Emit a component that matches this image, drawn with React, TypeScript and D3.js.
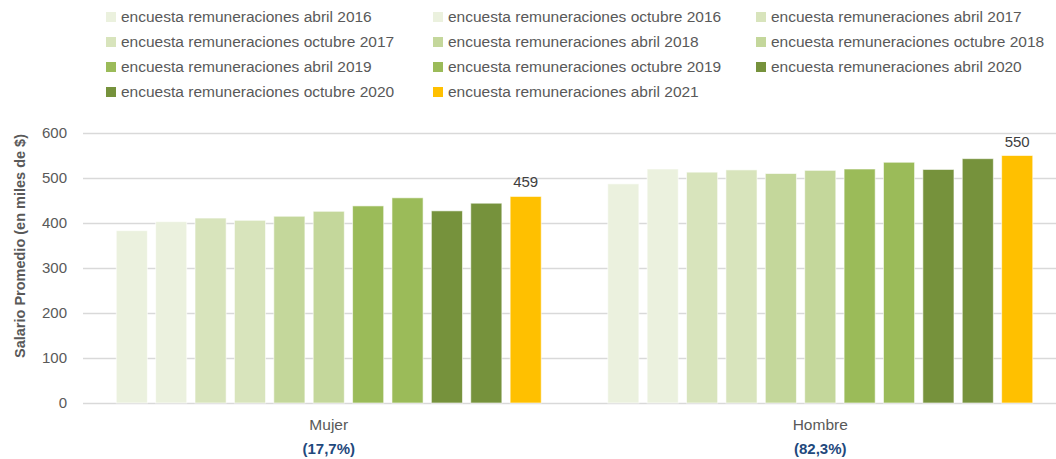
import React, { useEffect, useRef } from "react";
import * as d3 from "d3";

const categories = ["Mujer", "Hombre"];
const shares = ["(17,7%)", "(82,3%)"];

const series = [
  "encuesta remuneraciones abril 2016",
  "encuesta remuneraciones octubre 2016",
  "encuesta remuneraciones abril 2017",
  "encuesta remuneraciones octubre 2017",
  "encuesta remuneraciones abril 2018",
  "encuesta remuneraciones octubre 2018",
  "encuesta remuneraciones abril 2019",
  "encuesta remuneraciones octubre 2019",
  "encuesta remuneraciones abril 2020",
  "encuesta remuneraciones octubre 2020",
  "encuesta remuneraciones abril 2021",
];

const colors = [
  "#EBF1DE", "#EBF1DE",
  "#D8E4BC", "#D8E4BC",
  "#C4D79B", "#C4D79B",
  "#9BBB59", "#9BBB59",
  "#76923C", "#76923C",
  "#FFC000",
];

// values per series: [Mujer, Hombre]
const mujer = [383, 403, 411, 406, 415, 426, 438, 456, 427, 444, 459];
const hombre = [487, 520, 513, 518, 510, 517, 520, 535, 519, 543, 550];

const yTicks = [0, 100, 200, 300, 400, 500, 600];

const App = () => {
  const svgRef = useRef<SVGSVGElement>(null);

  useEffect(() => {
    const w = 1056;
    const h = 459;
    const svg = d3.select(svgRef.current).attr("width", w).attr("height", h);
    svg.selectAll("*").remove();

    const font = "'Liberation Sans', Arial, sans-serif";
    const grey = "#595959";

    const yScale = d3.scaleLinear().domain([0, 600]).range([403, 133]);
    const x0 = d3.scaleBand().domain(categories).range([83, 1066]);

    // gridlines
    svg
      .append("g")
      .selectAll("line")
      .data(yTicks)
      .join("line")
      .attr("x1", 83)
      .attr("x2", w)
      .attr("y1", (d) => yScale(d) + 0.5)
      .attr("y2", (d) => yScale(d) + 0.5)
      .attr("stroke", "#d9d9d9")
      .attr("stroke-width", 1.3);

    // y labels
    svg
      .append("g")
      .selectAll("text")
      .data(yTicks)
      .join("text")
      .attr("x", 67)
      .attr("y", (d) => yScale(d))
      .attr("dy", "0.35em")
      .attr("text-anchor", "end")
      .attr("font-family", font)
      .attr("font-size", 15)
      .attr("fill", grey)
      .text((d) => d);

    svg
      .append("text")
      .attr("transform", "translate(25,246) rotate(-90)")
      .attr("text-anchor", "middle")
      .attr("font-family", font)
      .attr("font-size", 14.5)
      .attr("font-weight", "bold")
      .attr("fill", grey)
      .text("Salario Promedio (en miles de $)");

    const values = [mujer, hombre];

    categories.forEach((cat, ci) => {
      const center = x0(cat)! + x0.bandwidth() / 2;
      const x1 = d3
        .scaleBand()
        .domain(series)
        .range([center - 212.5, center + 212.5])
        .paddingInner(0.21);

      const g = svg.append("g");
      g.selectAll("rect")
        .data(values[ci])
        .join("rect")
        .attr("x", (d, i) => x1(series[i])!)
        .attr("y", (d) => yScale(d))
        .attr("width", x1.bandwidth())
        .attr("height", (d) => yScale(0) - yScale(d))
        .attr("fill", (d, i) => colors[i])
        .attr("stroke", "#ffffff")
        .attr("stroke-opacity", 0.6)
        .attr("stroke-width", 1);

      // label on last bar
      const last = values[ci].length - 1;
      g.append("text")
        .attr("x", x1(series[last])! + x1.bandwidth() / 2)
        .attr("y", yScale(values[ci][last]) - 9)
        .attr("text-anchor", "middle")
        .attr("font-family", font)
        .attr("font-size", 15)
        .attr("fill", "#404040")
        .text(values[ci][last]);

      svg
        .append("text")
        .attr("x", center)
        .attr("y", 430)
        .attr("text-anchor", "middle")
        .attr("font-family", font)
        .attr("font-size", 15.5)
        .attr("fill", grey)
        .text(cat);

      svg
        .append("text")
        .attr("x", center)
        .attr("y", 454)
        .attr("text-anchor", "middle")
        .attr("font-family", font)
        .attr("font-size", 15)
        .attr("font-weight", "bold")
        .attr("fill", "#1F497D")
        .text(shares[ci]);
    });

    // legend
    const colX = [106, 433, 756];
    const leg = svg
      .append("g")
      .selectAll("g")
      .data(series)
      .join("g")
      .attr(
        "transform",
        (d, i) => `translate(${colX[i % 3]},${17 + Math.floor(i / 3) * 25})`
      );
    leg
      .append("rect")
      .attr("x", 0)
      .attr("y", -5)
      .attr("width", 10)
      .attr("height", 10)
      .attr("fill", (d, i) => colors[i]);
    leg
      .append("text")
      .attr("x", 15)
      .attr("dy", "0.35em")
      .attr("font-family", font)
      .attr("font-size", 15.5)
      .attr("fill", grey)
      .text((d) => d);
  }, []);

  return (
    <div style={{ position: "absolute", left: 0, top: 0 }}>
      <svg ref={svgRef} style={{ display: "block", background: "#fff" }}></svg>
    </div>
  );
};

export default App;
